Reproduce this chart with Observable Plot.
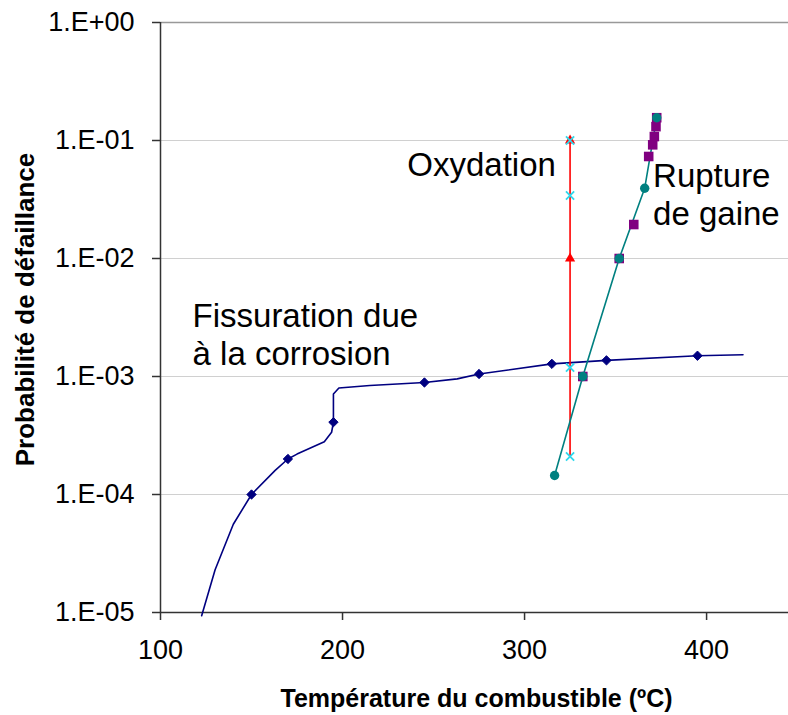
<!DOCTYPE html>
<html>
<head>
<meta charset="utf-8">
<script src="https://cdn.jsdelivr.net/npm/d3@7"></script>
<script src="https://cdn.jsdelivr.net/npm/@observablehq/plot@0.6"></script>
<style>
  html, body { margin: 0; padding: 0; background: #fff; }
  #chart { width: 788px; height: 715px; }
</style>
</head>
<body>
<div id="chart"></div>
<script>
// ---- Data ----
const xTicks = [100, 200, 300, 400];
const xTickLabels = ["100", "200", "300", "400"];
const yTicks = [1e-5, 1e-4, 1e-3, 1e-2, 1e-1, 1];
const yTickLabels = ["1.E-05", "1.E-04", "1.E-03", "1.E-02", "1.E-01", "1.E+00"];

const xTitle = "Température du combustible (ºC)";
const yTitle = "Probabilité de défaillance";

// Fissuration due à la corrosion (navy line + diamonds)
const corrosionCurveT = [122.6, 130, 140, 150, 163, 170, 175, 190, 194, 195, 195, 198, 215, 245, 263, 275, 315, 345, 395, 420];
const corrosionCurveP = [9.4e-6, 2.3e-5, 5.6e-5, 1e-4, 1.6e-4, 2e-4, 2.2e-4, 2.8e-4, 3.37e-4, 4.1e-4, 7.1e-4, 8.0e-4, 8.4e-4, 8.9e-4, 9.55e-4, 1.05e-3, 1.28e-3, 1.37e-3, 1.5e-3, 1.53e-3];
const corrosionMarkT = [150, 170, 195, 245, 275, 315, 345, 395];
const corrosionMarkP = [1e-4, 2e-4, 4.1e-4, 8.9e-4, 1.05e-3, 1.28e-3, 1.37e-3, 1.5e-3];

// Oxydation (red line + triangles, cyan crosses)
const oxidationLineT = [325, 325];
const oxidationLineP = [2.1e-4, 0.1];
const oxidationTriT = [325, 325];
const oxidationTriP = [0.01, 0.1];
const oxidationCrossT = [325, 325, 325, 325];
const oxidationCrossP = [2.1e-4, 1.19e-3, 0.0342, 0.1];

// Rupture de gaine (teal line + circles, purple squares)
const ruptureT = [316.5, 332, 352, 366, 372.6];
const ruptureP = [1.45e-4, 1e-3, 1e-2, 0.0394, 0.156];
const ruptureSqT = [332, 352, 360, 368.2, 370.4, 371.3, 372.2, 372.6];
const ruptureSqP = [1e-3, 1e-2, 0.0194, 0.0732, 0.0919, 0.108, 0.131, 0.156];

const annotations = ["Oxydation", "Rupture\nde gaine", "Fissuration due\nà la corrosion"];

// ---- Styles ----
const navy = "#000080", red = "#ff0000", cyan = "#2fd8ec", teal = "#008080", purple = "#800080";
const yLabel = new Map(yTicks.map((t, i) => [t, yTickLabels[i]]));
const xLabel = new Map(xTicks.map((t, i) => [t, xTickLabels[i]]));
const annFont = 33;

const chart = Plot.plot({
  width: 788,
  height: 715,
  marginLeft: 160,
  marginTop: 22,
  marginBottom: 103,
  marginRight: 0,
  x: { domain: [100, 445], axis: null },
  y: { type: "log", domain: [1e-5, 1], axis: null },
  style: { fontFamily: "'Liberation Sans', Arial, sans-serif", fontSize: "26px", background: "#fff", color: "#000" },
  marks: [
    Plot.ruleY(yTicks.slice(1, -1), { stroke: "#d0d0d0", strokeWidth: 1 }),
    Plot.ruleY([1], { stroke: "#999", strokeWidth: 1.5 }),
    Plot.ruleX([100], { stroke: "#333", strokeWidth: 1.5 }),
    Plot.ruleY([1e-5], { stroke: "#333", strokeWidth: 1.5 }),
    Plot.axisY({ ticks: yTicks, tickFormat: d => yLabel.get(d), tickSize: 8, tickPadding: 18, stroke: "#333", strokeWidth: 1.5, fontSize: 27, label: null }),
    Plot.axisX({ ticks: xTicks, tickFormat: d => xLabel.get(d), tickSize: 8, tickPadding: 19, stroke: "#333", strokeWidth: 1.5, fontSize: 27, label: null }),
    // axis titles
    Plot.text([xTitle], { frameAnchor: "bottom", dy: 94, dx: 2, lineAnchor: "bottom", textAnchor: "middle", fontWeight: "bold", fontSize: 25, text: d => d }),
    Plot.text([yTitle], { frameAnchor: "left", rotate: -90, dx: -127, dy: -8, lineAnchor: "bottom", textAnchor: "middle", fontWeight: "bold", fontSize: 26, text: d => d }),
    // series
    Plot.line(corrosionCurveT, { x: corrosionCurveT, y: corrosionCurveP, stroke: navy, strokeWidth: 1.6 }),
    Plot.dot(corrosionMarkT, { x: corrosionMarkT, y: corrosionMarkP, symbol: "diamond2", r: 4.2, fill: navy, stroke: navy, strokeWidth: 1 }),
    Plot.line(oxidationLineT, { x: oxidationLineT, y: oxidationLineP, stroke: red, strokeWidth: 1.6 }),
    Plot.line(ruptureT, { x: ruptureT, y: ruptureP, stroke: teal, strokeWidth: 1.6 }),
    Plot.dot(ruptureSqT, { x: ruptureSqT, y: ruptureSqP, symbol: "square", r: 5.4, fill: purple, stroke: "none" }),
    Plot.dot(ruptureT, { x: ruptureT, y: ruptureP, symbol: "circle", r: 4.7, fill: teal, stroke: "none" }),
    Plot.dot(oxidationTriT, { x: oxidationTriT, y: oxidationTriP, symbol: "triangle", r: 3.8, fill: red, stroke: "none" }),
    Plot.dot(oxidationCrossT, { x: oxidationCrossT, y: oxidationCrossP, symbol: "times", r: 3.8, fill: "none", stroke: cyan, strokeWidth: 1.8 }),
    // annotations
    Plot.text([annotations[0]], { x: 235.6, y: 0.0505, text: d => d, textAnchor: "start", lineAnchor: "bottom", fontSize: annFont }),
    Plot.text([annotations[1]], { x: 370.6, y: 0.01905, text: d => d, textAnchor: "start", lineAnchor: "bottom", fontSize: annFont, lineHeight: 1.17 }),
    Plot.text([annotations[2]], { x: 117.6, y: 1.24e-3, text: d => d, textAnchor: "start", lineAnchor: "bottom", fontSize: annFont, lineHeight: 1.17 })
  ]
});
document.getElementById("chart").appendChild(chart);
</script>
</body>
</html>
